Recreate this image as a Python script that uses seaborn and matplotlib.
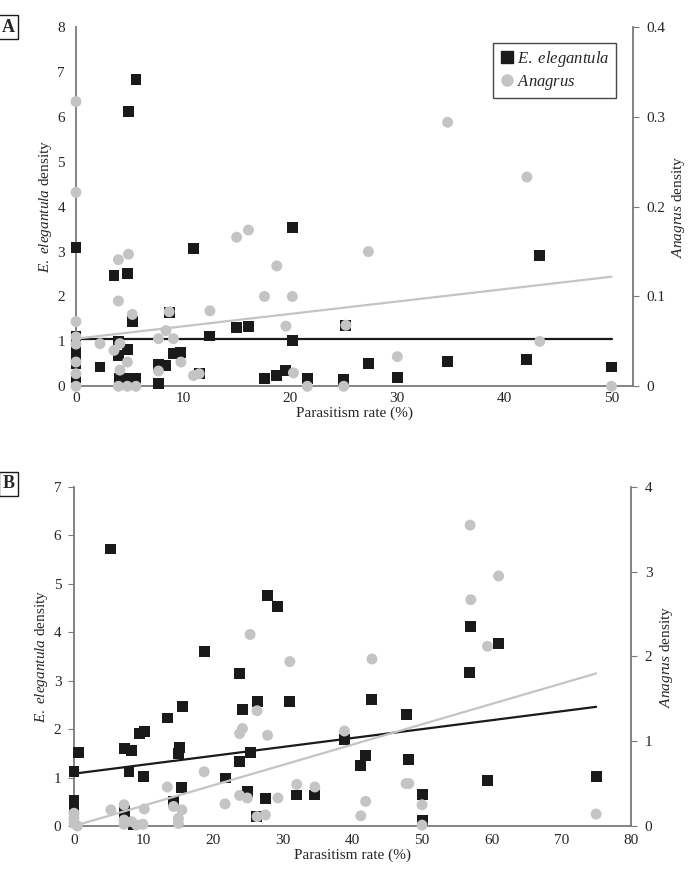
import numpy as np
import pandas as pd
import matplotlib
matplotlib.use("Agg")
import matplotlib.pyplot as plt
from matplotlib.lines import Line2D
import seaborn as sns

sns.set_style("white")
plt.rcParams['font.family'] = ['Liberation Serif', 'DejaVu Serif']
plt.rcParams['mathtext.fontset'] = 'custom'
plt.rcParams['mathtext.rm'] = 'Liberation Serif'
plt.rcParams['mathtext.it'] = 'Liberation Serif:italic'

# ---- Panel A data ----
a_ele_x = [0, 0, 0, 0, 0, 0,
           5.6, 4.9, 3.55, 4.8, 5.26, 3.96, 4.8, 3.96, 2.24, 4.05, 4.9, 5.6,
           7.7, 7.7, 8.4, 8.7, 9.1, 9.8, 10.97, 11.5, 12.5, 15.0, 16.1, 17.6, 18.75, 19.6,
           20.25, 20.2, 21.6, 25.0, 25.2, 27.3, 30.0, 34.7, 42.1, 43.3, 50.0]
a_ele_y = [3.09, 1.1, 0.9, 0.7, 0.5, 0.2,
           6.83, 6.12, 2.46, 2.51, 1.45, 0.99, 0.82, 0.69, 0.43, 0.18, 0.18, 0.18,
           0.06, 0.49, 0.47, 1.65, 0.74, 0.76, 3.07, 0.28, 1.12, 1.30, 1.34, 0.17, 0.245, 0.36,
           3.53, 1.02, 0.17, 0.15, 1.35, 0.50, 0.20, 0.56, 0.60, 2.92, 0.43]
a_ana_x = [0, 0, 0, 0, 0, 0, 0, 0,
           2.24, 3.96, 4.9, 3.96, 5.26, 4.1, 3.55, 4.8, 4.1, 3.96, 4.8, 5.6,
           7.7, 8.4, 9.1, 7.7, 8.7, 9.8, 10.97, 11.5, 12.5, 15.0, 16.1, 17.6, 18.75, 19.6,
           20.2, 20.3, 21.6, 25.0, 25.2, 27.3, 30.0, 34.7, 42.1, 43.3, 50.0]
a_ana_y = [0.317, 0.216, 0.072, 0.055, 0.047, 0.027, 0.014, 0.0,
           0.0475, 0.141, 0.147, 0.095, 0.08, 0.0475, 0.04, 0.027, 0.018, 0, 0, 0,
           0.053, 0.062, 0.053, 0.017, 0.083, 0.027, 0.012, 0.014, 0.084, 0.166, 0.174, 0.10,
           0.134, 0.067, 0.10, 0.015, 0, 0, 0.068, 0.15, 0.033, 0.294, 0.233, 0.05, 0]
a_ele_fit_x = [0, 50]
a_ele_fit_y = [1.05, 1.05]
a_ana_fit_x = [0, 50]
a_ana_fit_y = [0.053, 0.122]

# ---- Panel B data ----
b_ele_x = [0, 0, 0, 0,
           0.7, 5.2, 7.2, 8.3, 7.9, 7.2, 7.2, 8.5, 9.45, 10.1,
           10.0, 13.4, 14.3, 15.0, 15.2, 15.6, 15.4, 18.7, 21.7, 23.8,
           24.2, 23.8, 25.3, 24.9, 26.3, 26.2, 27.8, 29.3, 27.5, 31.0,
           31.9, 34.6, 38.85, 41.2, 41.9, 42.8, 47.7, 48.0, 50.0, 50.0,
           56.9, 56.8, 61.0, 59.4, 75.0]
b_ele_y = [1.12, 0.52, 0.33, 0.19,
           1.51, 5.72, 1.6, 1.55, 1.13, 0.33, 0.19, 0.02, 1.9, 1.95,
           1.02, 2.23, 0.5, 1.5, 1.62, 2.47, 0.79, 3.6, 0.99, 3.15,
           2.41, 1.33, 1.51, 0.72, 2.57, 0.19, 4.76, 4.53, 0.57, 2.58,
           0.64, 0.64, 1.78, 1.24, 1.45, 2.62, 2.31, 1.38, 0.65, 0.12,
           4.11, 3.17, 3.77, 0.94, 1.02]
b_ana_x = [0, 0, 0, 0.5,
           5.3, 7.2, 7.2, 7.2, 8.3, 9.0, 9.9, 10.1, 13.4, 14.3,
           15.5, 15.0, 15.0, 18.7, 21.7, 23.8, 24.9, 23.8, 24.2, 25.3,
           26.3, 27.8, 26.3, 27.5, 29.3, 31.0, 32.0, 34.6, 38.85, 41.2,
           41.9, 42.8, 47.7, 48.1, 50.0, 50.0, 56.9, 57.0, 61.0, 59.4,
           75.0]
b_ana_y = [0.15, 0.09, 0.03, 0.0,
           0.19, 0.25, 0.07, 0.02, 0.05, 0.01, 0.02, 0.2, 0.46, 0.23,
           0.19, 0.09, 0.03, 0.64, 0.26, 0.36, 0.33, 1.09, 1.15, 2.26,
           1.36, 1.07, 0.11, 0.13, 0.33, 1.94, 0.49, 0.46, 1.12, 0.12,
           0.29, 1.97, 0.5, 0.5, 0.25, 0.01, 3.55, 2.67, 2.95, 2.12,
           0.14]
b_ele_fit_x = [0, 75]
b_ele_fit_y = [1.08, 2.46]
b_ana_fit_x = [0, 75]
b_ana_fit_y = [0.0, 1.80]

BLACK = '#1a1a1a'
GREY = '#c4c4c4'
SPINE = '#7a7a7a'
FS = 11


def draw_panel(ax, ex, ey, gx, gy, efx, efy, gfx, gfy, xlim, ylim, y2lim,
               xticks, yticks, y2ticks, y2fmt, left_ticks, lpad, rpad, xpad, ypad):
    ax2 = ax.twinx()
    sns.scatterplot(x=ex, y=ey, ax=ax, marker='s', color=BLACK, s=62,
                    edgecolor='none', clip_on=False, zorder=3)
    sns.lineplot(x=efx, y=efy, ax=ax, color=BLACK, linewidth=1.6, zorder=4)
    sns.scatterplot(x=gx, y=gy, ax=ax2, marker='o', color=GREY, s=62,
                    edgecolor='none', clip_on=False, zorder=3)
    sns.lineplot(x=gfx, y=gfy, ax=ax2, color=GREY, linewidth=1.6, zorder=4)

    ax.set_xlim(*xlim)
    ax.set_ylim(*ylim)
    ax2.set_ylim(*y2lim)
    ax.set_xticks(xticks)
    ax.set_yticks(yticks)
    ax2.set_yticks(y2ticks)
    ax2.set_yticklabels([y2fmt(v) for v in y2ticks])
    ax.set_xticklabels([str(v) for v in xticks])

    for a in (ax, ax2):
        a.grid(False)
        a.spines['top'].set_visible(False)
        for s in ('left', 'right', 'bottom'):
            a.spines[s].set_color(SPINE)
            a.spines[s].set_linewidth(1.3)
    ax.spines['right'].set_visible(False)
    ax2.spines['left'].set_visible(False)
    ax2.spines['bottom'].set_visible(False)

    ax.tick_params(axis='x', length=0, pad=xpad, labelsize=FS)
    ax.tick_params(axis='y', length=4 if left_ticks else 0, color=SPINE,
                   direction='out', pad=ypad, labelsize=FS)
    ax2.tick_params(axis='y', length=4, color=SPINE, direction='out', pad=6, labelsize=FS)

    ax.set_xlabel('Parasitism rate (%)', fontsize=FS, labelpad=1)
    ax.set_ylabel(r'$\it{E.\ elegantula}$ density', fontsize=FS, labelpad=lpad)
    ax2.set_ylabel(r'$\it{Anagrus}$ density', fontsize=FS, labelpad=rpad)
    return ax2


fig = plt.figure(figsize=(6.94, 8.72), dpi=100)
axA = fig.add_axes([0.1095, 0.557, 0.8025, 0.412])
axB = fig.add_axes([0.1066, 0.0528, 0.8025, 0.3887])

draw_panel(axA, a_ele_x, a_ele_y, a_ana_x, a_ana_y,
           a_ele_fit_x, a_ele_fit_y, a_ana_fit_x, a_ana_fit_y,
           (0, 52), (0, 8), (0, 0.4),
           [0, 10, 20, 30, 40, 50], list(range(0, 9)), [0, 0.1, 0.2, 0.3, 0.4],
           lambda v: '0' if v == 0 else f'{v:.1f}', left_ticks=False,
           lpad=2, rpad=3, xpad=4, ypad=8)

draw_panel(axB, b_ele_x, b_ele_y, b_ana_x, b_ana_y,
           b_ele_fit_x, b_ele_fit_y, b_ana_fit_x, b_ana_fit_y,
           (0, 80), (0, 7), (0, 4),
           [0, 10, 20, 30, 40, 50, 60, 70, 80], list(range(0, 8)), [0, 1, 2, 3, 4],
           lambda v: str(int(v)), left_ticks=True,
           lpad=3, rpad=4, xpad=6, ypad=5)

# legend in panel A
handles = [Line2D([], [], marker='s', color=BLACK, linestyle='none', markersize=8),
           Line2D([], [], marker='o', color=GREY, linestyle='none', markersize=8)]
leg = axA.legend(handles, [r'$\it{E.\ elegantula}$', r'$\it{Anagrus}$'],
                 loc='upper right', bbox_to_anchor=(0.969, 0.955), borderaxespad=0,
                 fontsize=FS + 1, frameon=True, fancybox=False, handletextpad=0.1,
                 handlelength=1.0, borderpad=0.35, labelspacing=0.25)
leg.get_frame().set_edgecolor(BLACK)
leg.get_frame().set_linewidth(1.0)
leg.set_zorder(10)

# panel letters
for lab, y in (('A', 0.969), ('B', 0.445)):
    fig.text(0.012, y, lab, fontsize=FS + 2, fontweight='bold', ha='center', va='center',
             bbox=dict(boxstyle='square,pad=0.2', facecolor='white', edgecolor=BLACK, linewidth=1))

fig.savefig('out.png', dpi=100)
